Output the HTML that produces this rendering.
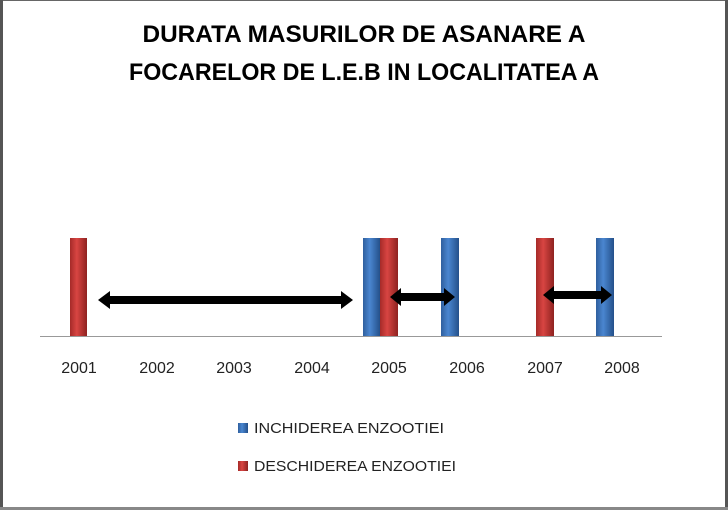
<!DOCTYPE html>
<html><head><style>body{margin:0;background:#fff}</style></head><body>
<svg width="728" height="510" xmlns="http://www.w3.org/2000/svg" font-family="Liberation Sans, sans-serif">
<defs>
<linearGradient id="b" x1="0" x2="1"><stop offset="0" stop-color="#2f5f9e"/><stop offset="0.4" stop-color="#4a86d0"/><stop offset="1" stop-color="#24508a"/></linearGradient>
<linearGradient id="r" x1="0" x2="1"><stop offset="0" stop-color="#a52a28"/><stop offset="0.4" stop-color="#d84542"/><stop offset="1" stop-color="#8e2220"/></linearGradient>
</defs>
<rect x="0.5" y="0.5" width="727" height="509" fill="#fff" stroke="#666" stroke-width="1"/>
<rect x="0" y="0" width="3" height="510" fill="#555"/>
<rect x="725" y="0" width="3" height="510" fill="#555"/>
<rect x="0" y="507" width="728" height="3" fill="#888"/>
<text x="364" y="42" font-size="24" font-weight="bold" text-anchor="middle" textLength="443" lengthAdjust="spacingAndGlyphs">DURATA MASURILOR DE ASANARE A</text>
<text x="364" y="80" font-size="24" font-weight="bold" text-anchor="middle" textLength="470" lengthAdjust="spacingAndGlyphs">FOCARELOR DE L.E.B IN LOCALITATEA A</text>
<line x1="40" y1="336.5" x2="662" y2="336.5" stroke="#999" stroke-width="1"/>
<rect x="70" y="238" width="17" height="98" fill="url(#r)"/>
<rect x="363" y="238" width="17" height="98" fill="url(#b)"/>
<rect x="380" y="238" width="18" height="98" fill="url(#r)"/>
<rect x="441" y="238" width="18" height="98" fill="url(#b)"/>
<rect x="536" y="238" width="18" height="98" fill="url(#r)"/>
<rect x="596" y="238" width="18" height="98" fill="url(#b)"/>
<g fill="#000">
<polygon points="98,300 110,291 110,296 341,296 341,291 353,300 341,309 341,304 110,304 110,309"/>
<polygon points="390,297 401,288 401,293 444,293 444,288 455,297 444,306 444,301 401,301 401,306"/>
<polygon points="543,295 554,286 554,291 601,291 601,286 612,295 601,304 601,299 554,299 554,304"/>
</g>
<g font-size="16" fill="#222" text-anchor="middle">
<text x="79" y="373">2001</text><text x="157" y="373">2002</text><text x="234" y="373">2003</text><text x="312" y="373">2004</text>
<text x="389" y="373">2005</text><text x="467" y="373">2006</text><text x="545" y="373">2007</text><text x="622" y="373">2008</text>
</g>
<rect x="238" y="423" width="10" height="10" fill="url(#b)"/>
<text x="254" y="433" font-size="15" fill="#222" textLength="190" lengthAdjust="spacingAndGlyphs">INCHIDEREA ENZOOTIEI</text>
<rect x="238" y="461" width="10" height="10" fill="url(#r)"/>
<text x="254" y="471" font-size="15" fill="#222" textLength="202" lengthAdjust="spacingAndGlyphs">DESCHIDEREA ENZOOTIEI</text>
</svg>
</body></html>
